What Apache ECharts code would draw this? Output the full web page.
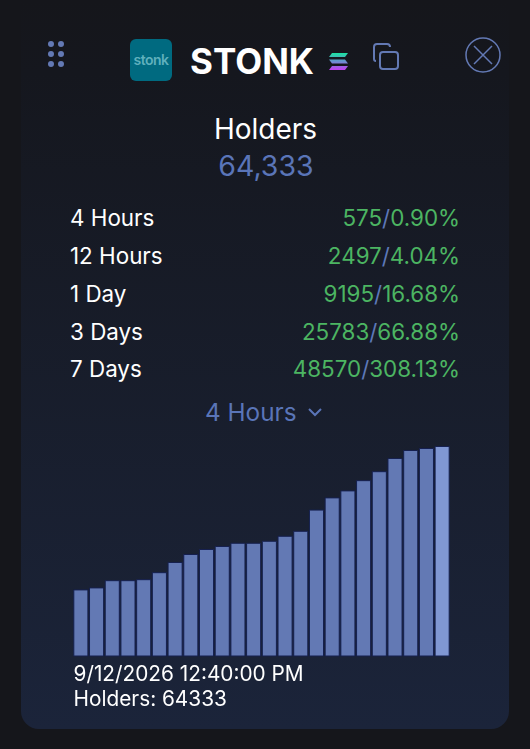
<!DOCTYPE html>
<html>
<head>
<meta charset="utf-8">
<script src="https://cdn.jsdelivr.net/npm/echarts@6/dist/echarts.min.js"></script>
<style>
  html, body { margin: 0; padding: 0; width: 530px; height: 749px; background: #15161b; overflow: hidden; }
  body { position: relative; font-family: Inter, "Noto Sans", sans-serif; color: #fff; }
  .abs { position: absolute; white-space: nowrap; }
  #card { position: absolute; left: 21px; top: 0; width: 488px; height: 729px; border-radius: 0 0 18px 18px;
    background: linear-gradient(180deg, #15161b 0%, #15171e 10%, #1b243a 100%); }
  #chart { position: absolute; left: 63px; top: 430px; width: 397px; height: 235px; }
  .label { left: 70px; font-size: 22.4px; line-height: 28px; }
  .val { right: 70px; font-size: 22.4px; line-height: 28px; color: #4cb562; }
  .val i { font-style: normal; color: #5d78b8; }
</style>
</head>
<body>
<div id="card"></div>

<svg class="abs" style="left:47px;top:40px" width="18" height="30">
  <g fill="#6379b4">
    <circle cx="4" cy="4" r="3"/><circle cx="14" cy="4" r="3"/>
    <circle cx="4" cy="14" r="3"/><circle cx="14" cy="14" r="3"/>
    <circle cx="4" cy="24" r="3"/><circle cx="14" cy="24" r="3"/>
  </g>
</svg>
<div class="abs" style="left:130px;top:39px;width:42px;height:42px;border-radius:6px;background:#006a80;color:#5fb0bd;font-size:14px;font-weight:600;line-height:42px;text-align:center;letter-spacing:-.5px">stonk</div>
<div class="abs" style="left:190px;top:40px;font-size:35px;line-height:42px;font-weight:700">STONK</div>
<svg class="abs" style="left:328px;top:52px" width="22" height="20">
  <defs><linearGradient id="sol" x1="0" y1="0" x2="0" y2="1">
    <stop offset="0" stop-color="#19e3a0"/><stop offset=".5" stop-color="#6a8fd0"/><stop offset="1" stop-color="#c23df0"/>
  </linearGradient></defs>
  <path fill="url(#sol)" d="M4 1H20L17 5H1Z M1 7.500H17L20 11.500H4Z M4 14H20L17 18H1Z"/>
</svg>
<svg class="abs" style="left:372px;top:42px" width="28" height="28" fill="none" stroke="#6379b4" stroke-width="2">
  <rect x="8" y="10" width="18" height="17" rx="3"/>
  <path d="M4 19C2.500 19 2 18 2 17V5C2 3 3 2 5 2H15C17 2 18 3 18 5"/>
</svg>
<svg class="abs" style="left:465px;top:37px" width="36" height="36" fill="none" stroke="#6379b4" stroke-width="1.500">
  <circle cx="18" cy="18" r="17"/>
  <path d="M9 9L27 27M27 9L9 27"/>
</svg>

<div class="abs" style="left:0;width:531px;top:113px;text-align:center;font-size:28px;line-height:32px">Holders</div>
<div class="abs" style="left:0;width:532px;top:150px;text-align:center;font-size:28.5px;line-height:32px;color:#5a75b8">64,333</div>

<div id="rows"></div>

<div class="abs" style="left:205px;top:397px;font-size:24.3px;line-height:30px;color:#5a75b8">4 Hours</div>
<svg class="abs" style="left:307px;top:407px" width="16" height="12" fill="none" stroke="#5a75b8" stroke-width="2"><path d="M2 2L8 8L14 2"/></svg>

<div id="chart"></div>

<div class="abs" style="left:73.500px;top:661px;font-size:20.8px;line-height:26px">9/12/2026 12:40:00 PM</div>
<div class="abs" style="left:73.500px;top:686px;font-size:20.8px;line-height:26px">Holders: 64333</div>

<script>
var periods = ['4 Hours', '12 Hours', '1 Day', '3 Days', '7 Days']
var changes = ['575', '2497', '9195', '25783', '48570']
var percents = ['0.90%', '4.04%', '16.68%', '66.88%', '308.13%']
var rowTops = [204, 242, 280, 318, 355]

// ten minute samples over the last four hours
var times = ['8:50', '9:00', '9:10', '9:20', '9:30', '9:40', '9:50', '10:00', '10:10', '10:20', '10:30', '10:40',
  '10:50', '11:00', '11:10', '11:20', '11:30', '11:40', '11:50', '12:00', '12:10', '12:20', '12:30', '12:40']
var holders = [63758, 63766, 63795, 63795, 63799, 63827, 63868, 63900, 63920, 63932, 63945, 63945,
  63953, 63973, 63993, 64078, 64127, 64155, 64196, 64232, 64285, 64317, 64325, 64333]

var html = ''
periods.forEach(function (p, i) {
  html += '<div class="abs label" style="top:' + rowTops[i] + 'px">' + p + '</div>'
  html += '<div class="abs val" style="top:' + rowTops[i] + 'px">' + changes[i] + '<i>/</i>' + percents[i] + '</div>'
})
document.getElementById('rows').innerHTML = html

var chart = echarts.init(document.getElementById('chart'))
chart.setOption({
  animation: false,
  grid: { left: 10, right: 10, top: 16, bottom: 9 },
  xAxis: { type: 'category', data: times, show: false },
  yAxis: { type: 'value', min: 63491, max: 64333, show: false },
  series: [{
    type: 'bar',
    barCategoryGap: '4%',
    itemStyle: { color: '#6379b4', borderColor: '#16204f', borderWidth: 1 },
    data: holders.map(function (v, i) {
      if (i === holders.length - 1) {
        return { value: v, itemStyle: { color: '#8097d3' } }
      }
      return v
    })
  }]
})
</script>
</body>
</html>
